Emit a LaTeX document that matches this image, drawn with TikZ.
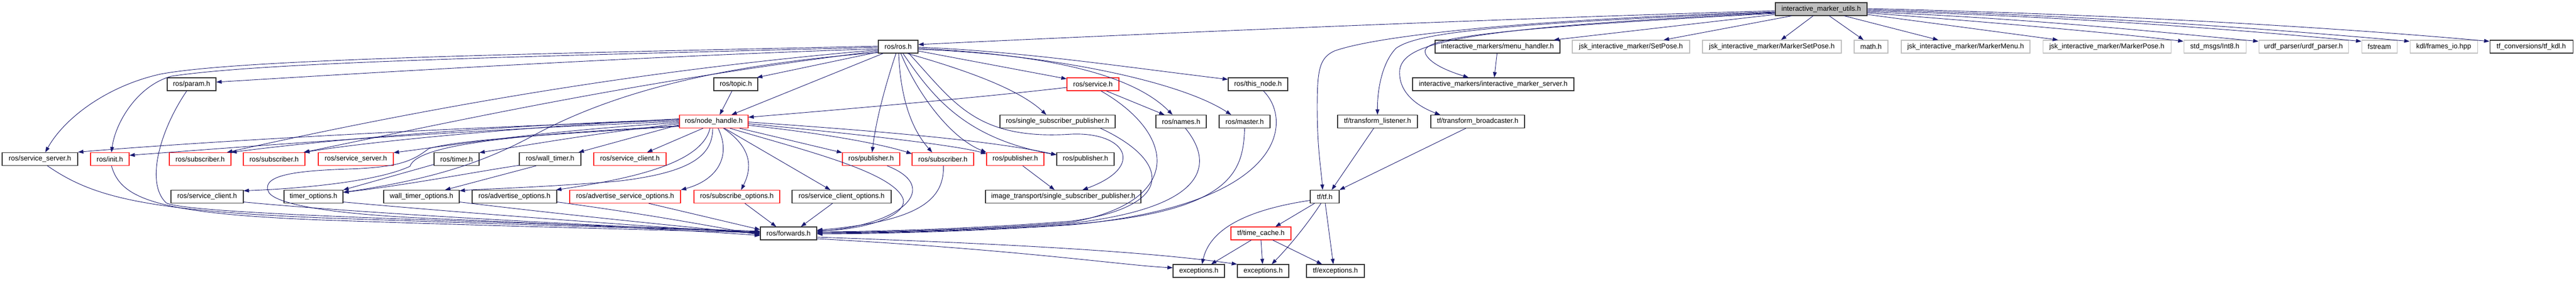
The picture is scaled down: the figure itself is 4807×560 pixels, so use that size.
\documentclass[tikz,border=0pt]{standalone}
\usepackage{fontspec}
\setmainfont{Liberation Sans}
\usetikzlibrary{arrows.meta}
\definecolor{edgec}{RGB}{25,25,112}
\definecolor{bgray}{RGB}{191,191,191}
\definecolor{bblack}{RGB}{50,50,50}
\definecolor{bred}{RGB}{255,30,30}
\tikzset{
  nb/.style={draw=bblack, line width=1.1pt, rectangle, inner sep=0pt, minimum height=24pt,
             font=\fontsize{13}{15}\selectfont, anchor=center},
  nr/.style={nb, draw=bred},
  ng/.style={nb, draw=bgray},
  e/.style={draw=edgec, line width=0.9pt, -{Triangle[length=10pt,width=7pt]}},
}
\begin{document}
\begin{tikzpicture}[x=1pt,y=-1pt]
\useasboundingbox[fill=white] (0,0) rectangle (4807,560);
% row 0
\node[nb, fill=bgray, minimum width=171pt] (U) at (3398.5,17) {interactive\_marker\_utils.h};
% row 1
\node[nb, minimum width=74pt] (ros) at (1676,87) {ros/ros.h};
\node[nb, minimum width=233pt] (mh) at (2794.5,87) {interactive\_markers/menu\_handler.h};
\node[ng, minimum width=219pt] (sp) at (3043.5,87) {jsk\_interactive\_marker/SetPose.h};
\node[ng, minimum width=259pt] (msp) at (3306.5,87) {jsk\_interactive\_marker/MarkerSetPose.h};
\node[ng, minimum width=63pt] (math) at (3491.5,87) {math.h};
\node[ng, minimum width=240pt] (mm) at (3668,87) {jsk\_interactive\_marker/MarkerMenu.h};
\node[ng, minimum width=239pt] (mp) at (3931.5,87) {jsk\_interactive\_marker/MarkerPose.h};
\node[ng, minimum width=116pt] (int8) at (4133,87) {std\_msgs/Int8.h};
\node[ng, minimum width=167pt] (urdf) at (4298.5,87) {urdf\_parser/urdf\_parser.h};
\node[ng, minimum width=66pt] (fs) at (4440,87) {fstream};
\node[ng, minimum width=126pt] (kdl) at (4560,87) {kdl/frames\_io.hpp};
\node[nb, minimum width=155pt] (tfkdl) at (4723.5,87) {tf\_conversions/tf\_kdl.h};
% row 2
\node[nb, minimum width=91pt] (param) at (357.5,157) {ros/param.h};
\node[nb, minimum width=82pt] (topic) at (1373,157) {ros/topic.h};
\node[nr, minimum width=97pt] (service) at (2039.5,157) {ros/service.h};
\node[nb, minimum width=111pt] (thisnode) at (2347.5,157) {ros/this\_node.h};
\node[nb, minimum width=301pt] (ims) at (2786.5,157) {interactive\_markers/interactive\_marker\_server.h};
% row 3
\node[nr, minimum width=128pt] (nh) at (1332,226.5) {ros/node\_handle.h};
\node[nb, minimum width=215pt] (ssp) at (1973.5,226.5) {ros/single\_subscriber\_publisher.h};
\node[nb, minimum width=94pt] (names) at (2204,226.5) {ros/names.h};
\node[nb, minimum width=95pt] (master) at (2322.5,226.5) {ros/master.h};
\node[nb, minimum width=149pt] (tfl) at (2570.5,226.5) {tf/transform\_listener.h};
\node[nb, minimum width=175pt] (tfb) at (2757.5,226.5) {tf/transform\_broadcaster.h};
% row 4
\node[nb, minimum width=141pt] (ss1) at (74.5,296.5) {ros/service\_server.h};
\node[nr, minimum width=72pt] (init) at (205,296.5) {ros/init.h};
\node[nr, minimum width=115pt] (sub1) at (373.5,296.5) {ros/subscriber.h};
\node[nr, minimum width=115pt] (sub2) at (511.5,296.5) {ros/subscriber.h};
\node[nr, minimum width=140pt] (ss2) at (664,296.5) {ros/service\_server.h};
\node[nb, minimum width=84pt] (timer) at (852,296.5) {ros/timer.h};
\node[nb, minimum width=115pt] (wt) at (1026.5,296.5) {ros/wall\_timer.h};
\node[nr, minimum width=135pt] (sc1) at (1175.5,296.5) {ros/service\_client.h};
\node[nr, minimum width=107pt] (pub1) at (1625.5,296.5) {ros/publisher.h};
\node[nr, minimum width=115pt] (sub3) at (1759.5,296.5) {ros/subscriber.h};
\node[nr, minimum width=107pt] (pub2) at (1894.5,296.5) {ros/publisher.h};
\node[nb, minimum width=107pt] (pub3) at (2025.5,296.5) {ros/publisher.h};
% row 5
\node[nb, minimum width=135pt] (sc2) at (386.5,366.5) {ros/service\_client.h};
\node[nb, minimum width=110pt] (to) at (585,366.5) {timer\_options.h};
\node[nb, minimum width=141pt] (wto) at (786.5,366.5) {wall\_timer\_options.h};
\node[nb, minimum width=158pt] (ao) at (960,366.5) {ros/advertise\_options.h};
\node[nr, minimum width=207pt] (aso) at (1166.5,366.5) {ros/advertise\_service\_options.h};
\node[nr, minimum width=160pt] (so) at (1375,366.5) {ros/subscribe\_options.h};
\node[nb, minimum width=185pt] (sco) at (1570.5,366.5) {ros/service\_client\_options.h};
\node[nb, minimum width=290pt] (itssp) at (1984,366.5) {image\_transport/single\_subscriber\_publisher.h};
\node[nb, minimum width=54pt] (tf) at (2472,366.5) {tf/tf.h};
% row 6
\node[nb, minimum width=105pt] (fwd) at (1471.5,435) {ros/forwards.h};
\node[nr, minimum width=112pt] (tc) at (2353,435) {tf/time\_cache.h};
% row 7
\node[nb, minimum width=96pt] (ex1) at (2237,505) {exceptions.h};
\node[nb, minimum width=96pt] (ex2) at (2357,505) {exceptions.h};
\node[nb, minimum width=108pt] (tfex) at (2492,505) {tf/exceptions.h};

% ---- edges from interactive_marker_utils.h
\draw[e] ([yshift=-3pt]U.west) .. controls (2800,35) and (2200,60) .. ([yshift=4pt]ros.east);
\draw[e] ([yshift=-5pt]U.west) .. controls (2800,38) and (2560,70) .. (2490,95) .. controls (2462,108) and (2458,130) .. (2458,200) .. controls (2458,280) and (2466,320) .. ([xshift=-4pt]tf.north);
\draw[e] ([yshift=-6pt]U.west) .. controls (2750,45) and (2640,65) .. (2605,90) .. controls (2578,118) and (2570,170) .. (tfl.north);
\draw[e] ([yshift=-7pt]U.west) .. controls (2720,52) and (2620,80) .. (2612,130) .. controls (2608,175) and (2650,200) .. ([xshift=-70pt]tfb.north);
\draw[e] ([yshift=-8pt]U.west) .. controls (2720,56) and (2650,75) .. (2660,100) .. controls (2668,118) and (2700,132) .. ([xshift=-46pt]ims.north);
\draw[e] ([xshift=-1pt]mh.south) -- ([xshift=2pt]ims.north);
\draw[e] ([yshift=-10pt]U.west) -- ([xshift=105pt]mh.north);
\draw[e] ([xshift=-55pt]U.south) -- ([xshift=61pt]sp.north);
\draw[e] ([xshift=-15pt]U.south) -- ([xshift=17pt]msp.north);
\draw[e] ([xshift=15pt]U.south) -- ([xshift=-14pt]math.north);
\draw[e] ([xshift=43pt]U.south) -- ([xshift=-51pt]mm.north);
\draw[e] ([yshift=-10pt]U.east) -- ([xshift=-91pt]mp.north);
\draw[e] ([yshift=-7pt]U.east) .. controls (3700,40) and (3950,62) .. ([yshift=10pt]int8.west);
\draw[e] ([yshift=-5pt]U.east) .. controls (3800,35) and (4050,62) .. ([yshift=10pt]urdf.west);
\draw[e] ([yshift=-3pt]U.east) .. controls (3900,32) and (4200,58) .. ([yshift=10pt]fs.west);
\draw[e] ([yshift=-1pt]U.east) .. controls (3950,30) and (4300,60) .. ([yshift=10pt]kdl.west);
\draw[e] ([yshift=1pt]U.east) .. controls (4000,28) and (4400,55) .. ([yshift=10pt]tfkdl.west);

% ---- edges from ros/ros.h
\draw[e] ([yshift=1pt]ros.west) .. controls (1000,100) and (450,110) .. (300,138) .. controls (200,160) and (120,220) .. ([xshift=10pt]ss1.north);
\draw[e] ([yshift=-1pt]ros.west) .. controls (1000,105) and (500,115) .. (320,142) .. controls (255,160) and (215,230) .. ([xshift=3pt]init.north);
\draw[e] ([yshift=-4pt]ros.west) .. controls (1200,105) and (700,135) .. ([yshift=4pt]param.east);
\draw[e] ([yshift=-10pt]ros.west) -- ([xshift=-2pt]topic.north east);
\draw[e] ([xshift=-28pt]ros.south) -- ([xshift=33pt]nh.north);
\draw[e] ([yshift=-6pt]ros.west) .. controls (1200,130) and (800,200) .. ([xshift=50pt]sub1.north);
\draw[e] ([yshift=-8pt]ros.west) .. controls (1200,150) and (900,215) .. ([xshift=-3pt]sub2.north east);
\draw[e] ([yshift=-11pt]ros.west) .. controls (1350,120) and (1150,170) .. (1000,250) .. controls (900,305) and (800,335) .. ([yshift=8pt]to.east);
\draw[e] ([yshift=-8pt]ros.east) -- ([yshift=10pt]service.west);
\draw[e] ([xshift=17pt]ros.south) .. controls (1800,130) and (1900,165) .. ([xshift=-21pt]ssp.north);
\draw[e] ([yshift=-3pt]ros.east) .. controls (1900,100) and (2100,125) .. ([xshift=-16pt]names.north);
\draw[e] ([yshift=-5pt]ros.east) .. controls (1950,100) and (2200,150) .. ([xshift=-25pt]master.north);
\draw[e] ([yshift=-1pt]ros.east) .. controls (1900,95) and (2100,125) .. ([yshift=9pt]thisnode.west);
\draw[e] ([xshift=-4pt]ros.south) .. controls (1655,150) and (1635,220) .. ([xshift=2pt]pub1.north);
\draw[e] ([xshift=1pt]ros.south) .. controls (1680,180) and (1700,240) .. ([xshift=-20pt]sub3.north);
\draw[e] ([xshift=5pt]ros.south) .. controls (1710,170) and (1770,255) .. (pub2.north west);
\draw[e] ([xshift=9pt]ros.south) .. controls (1740,180) and (1800,258) .. ([yshift=8pt]pub3.west);
\draw[e] ([xshift=20pt]ros.south) .. controls (1780,190) and (1820,262) .. (2000,250) .. controls (2100,246) and (2140,310) .. ([xshift=36pt]itssp.north);

% ---- edges from ros/node_handle.h
\draw[e] ([yshift=2pt]nh.west) .. controls (900,235) and (400,262) .. ([yshift=13pt]ss1.east);
\draw[e] ([yshift=0pt]nh.west) .. controls (900,240) and (500,270) .. ([yshift=7pt]init.east);
\draw[e] ([yshift=4pt]nh.west) .. controls (900,235) and (600,262) .. (sub1.north east);
\draw[e] ([yshift=5pt]nh.west) .. controls (1000,235) and (700,262) .. ([xshift=-2pt]sub2.north east);
\draw[e] ([yshift=-2pt]nh.west) .. controls (1000,245) and (850,270) .. ([yshift=12pt]ss2.east);
\draw[e] ([yshift=-4pt]nh.west) .. controls (1100,250) and (1000,268) .. ([yshift=12pt]timer.east);
\draw[e] ([yshift=-6pt]nh.west) -- ([xshift=-5pt]wt.north east);
\draw[e] ([xshift=-20pt]nh.south) -- ([xshift=32pt]sc1.north);
\draw[e] ([yshift=-8pt]nh.west) .. controls (1000,250) and (780,265) .. (765,310) .. controls (700,340) and (550,352) .. ([yshift=11pt]sc2.east);
\draw[e] ([yshift=-9pt]nh.west) .. controls (1000,252) and (850,262) .. (800,277) .. controls (770,300) and (745,312) .. (650,315) .. controls (560,318) and (490,325) .. (500,355) .. controls (505,378) and (600,398) .. (800,407) .. controls (1100,420) and (1300,430) .. ([yshift=-4pt]fwd.west);
\draw[e] ([xshift=-2pt]nh.south) .. controls (1330,290) and (1290,322) .. (1150,338) .. controls (1000,350) and (900,352) .. ([yshift=11pt]wto.east);
\draw[e] ([xshift=-7pt]nh.south) .. controls (1310,300) and (1200,330) .. ([xshift=-2pt]ao.north east);
\draw[e] ([xshift=8pt]nh.south) .. controls (1365,290) and (1340,335) .. (aso.north east);
\draw[e] ([xshift=18pt]nh.south) .. controls (1410,280) and (1400,320) .. ([xshift=8pt]so.north);
\draw[e] ([xshift=20pt]nh.south) -- ([xshift=-21pt]sco.north);
\draw[e] ([xshift=48pt]nh.south) -- ([yshift=12pt]pub1.west);
\draw[e] ([yshift=-7pt]nh.east) .. controls (1550,250) and (1650,270) .. ([yshift=10pt]sub3.west);
\draw[e] ([yshift=-4pt]nh.east) .. controls (1600,250) and (1780,270) .. ([yshift=10pt]pub2.west);
\draw[e] ([yshift=-1pt]nh.east) .. controls (1650,245) and (1850,262) .. ([yshift=8pt]pub3.west);
\draw[e] ([xshift=30pt]nh.south) .. controls (1500,280) and (1665,320) .. (1685,370) .. controls (1695,400) and (1620,428) .. ([yshift=5pt]fwd.east);

% ---- other edges, upper part
\draw[e] ([xshift=-7pt]topic.south) -- ([xshift=11pt]nh.north);
\draw[e] ([yshift=-6pt]service.west) .. controls (1800,185) and (1500,210) .. ([yshift=8pt]nh.east);
\draw[e] ([xshift=25pt]service.south) -- ([xshift=-31pt]names.north);
\draw[e] ([xshift=14pt]pub2.south) -- ([xshift=-16pt]itssp.north);
\draw[e] ([yshift=-10pt]timer.west) -- (to.north east);
\draw[e] ([xshift=-57pt,yshift=1pt]wt.south) .. controls (900,318) and (760,345) .. ([yshift=8pt]to.east);
\draw[e] ([xshift=-26pt]wt.south) -- ([xshift=44pt]wto.north);

% ---- edges into ros/forwards.h
\draw[e] ([xshift=14pt]ss1.south) .. controls (170,365) and (260,392) .. (600,406) .. controls (1000,420) and (1300,428) .. ([yshift=3pt]fwd.west);
\draw[e] ([xshift=3pt]init.south) .. controls (225,370) and (290,398) .. (600,410) .. controls (1000,424) and (1300,430) .. ([yshift=1pt]fwd.west);
\draw[e] ([xshift=-9pt]param.south) .. controls (300,240) and (270,340) .. (310,378) .. controls (350,400) and (900,412) .. ([yshift=4pt]fwd.west);
\draw[e] ([yshift=-10pt]sc2.east) .. controls (700,400) and (1200,425) .. ([yshift=2pt]fwd.west);
\draw[e] ([yshift=-10pt]to.east) .. controls (900,400) and (1250,425) .. (fwd.west);
\draw[e] ([yshift=-10pt]wto.east) .. controls (1050,400) and (1300,425) .. ([yshift=-1pt]fwd.west);
\draw[e] ([yshift=-10pt]ao.east) .. controls (1200,398) and (1320,420) .. ([yshift=-3pt]fwd.west);
\draw[e] ([xshift=44pt]aso.south) -- ([yshift=7pt]fwd.west);
\draw[e] ([xshift=15pt]so.south) -- ([xshift=-23pt]fwd.north);
\draw[e] ([xshift=-17pt]sco.south) -- ([xshift=23pt]fwd.north);
\draw[e] ([xshift=30pt]pub1.south) .. controls (1760,350) and (1680,420) .. ([yshift=4pt]fwd.east);
\draw[e] ([xshift=1pt]sub3.south) .. controls (1762,370) and (1720,412) .. ([yshift=6pt]fwd.east);
\draw[e] ([xshift=80pt]ssp.south) .. controls (2185,300) and (2195,385) .. (2000,412) .. controls (1800,428) and (1600,432) .. ([yshift=3pt]fwd.east);
\draw[e] ([xshift=15pt]service.south) .. controls (2195,250) and (2210,375) .. (2000,414) .. controls (1800,430) and (1600,433) .. ([yshift=2pt]fwd.east);
\draw[e] ([xshift=8pt]names.south) .. controls (2262,300) and (2265,385) .. (2000,416) .. controls (1800,431) and (1600,434) .. ([yshift=1pt]fwd.east);
\draw[e] (master.south) .. controls (2320,320) and (2300,395) .. (2000,418) .. controls (1800,432) and (1600,435) .. (fwd.east);
\draw[e] ([xshift=10pt]thisnode.south) .. controls (2410,220) and (2410,380) .. (2000,419) .. controls (1800,433) and (1600,436) .. ([yshift=-1pt]fwd.east);

% ---- lower part
\draw[e] ([yshift=-10pt]fwd.east) .. controls (1900,465) and (2100,495) .. ([yshift=6pt]ex1.west);
\draw[e] ([yshift=-7pt]fwd.east) .. controls (1900,455) and (2150,470) .. (ex2.north west);
\draw[e] ([xshift=-7pt]tfl.south) -- ([xshift=13pt]tf.north);
\draw[e] ([xshift=-22pt]tfb.south) -- (tf.north east);
\draw[e] ([xshift=-19pt]tf.south) -- ([xshift=27pt]tc.north);
\draw[e] ([yshift=-7pt]tf.west) .. controls (2300,395) and (2255,440) .. ([xshift=6pt]ex1.north);
\draw[e] ([xshift=-7pt]tf.south) .. controls (2445,410) and (2410,455) .. ([xshift=16pt]ex2.north);
\draw[e] ([xshift=1pt]tf.south) -- ([xshift=-4pt]tfex.north);
\draw[e] ([xshift=-18pt]tc.south) -- ([xshift=23pt]ex1.north);
\draw[e] ([xshift=0pt]tc.south) -- ([xshift=-1pt]ex2.north);
\draw[e] ([xshift=22pt]tc.south) -- ([xshift=-25pt]tfex.north);
\end{tikzpicture}
\end{document}
